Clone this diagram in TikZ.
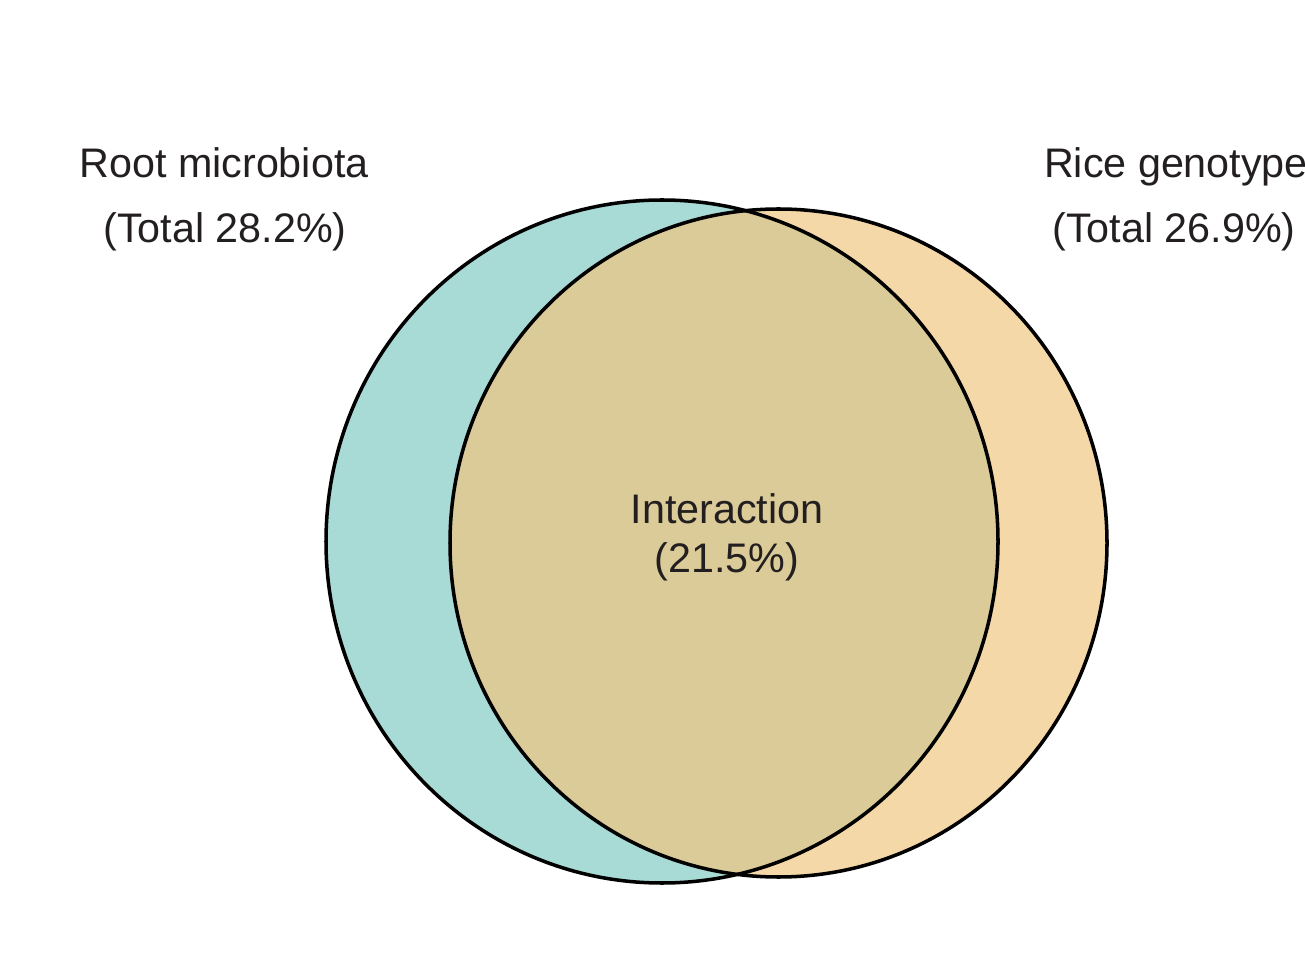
\documentclass[tikz,border=0pt]{standalone}
\usepackage{fontspec}
\setmainfont{Liberation Sans}
\definecolor{microteal}{HTML}{A8DAD6}
\definecolor{riceorange}{HTML}{F5D8A8}
\definecolor{overlapsand}{HTML}{DACB98}
\definecolor{inkdark}{HTML}{231F20}
\tikzset{
  vennlabel/.style={anchor=base, text=inkdark, inner sep=0pt,
    font=\fontsize{23.5}{28}\selectfont},
  vennline/.style={line width=2pt, black}
}
\begin{document}
\begin{tikzpicture}[x=0.02cm, y=-0.02cm]
        \useasboundingbox (0,0) rectangle (1305,962);
        \coordinate (micro) at (662,541.5);
        \coordinate (rice) at (778.5,543);

        % Fills
        \fill[microteal] (micro) ellipse [x radius=336, y radius=341.5];
        \fill[riceorange] (rice) ellipse [x radius=328.5, y radius=334];
        \begin{scope}
            \clip (micro) ellipse [x radius=336, y radius=341.5];
            \fill[overlapsand] (rice) ellipse [x radius=328.5, y radius=334];
        \end{scope}

        % Outlines
        \draw[vennline] (micro) ellipse [x radius=336, y radius=341.5];
        \draw[vennline] (rice) ellipse [x radius=328.5, y radius=334]; % Right circle

        % Labels
        \foreach \n/\x/\y/\txt in {rootname/224/178/Root microbiota,
                rootpct/225/243/(Total 28.2\%),
                ricename/1176/178/Rice genotype,
                ricepct/1174/243/(Total 26.9\%),
                intname/727/524/Interaction,
                intpct/727/573/(21.5\%)}
            \node[vennlabel] (\n) at (\x,\y) {\txt};
    \end{tikzpicture}
\end{document}
